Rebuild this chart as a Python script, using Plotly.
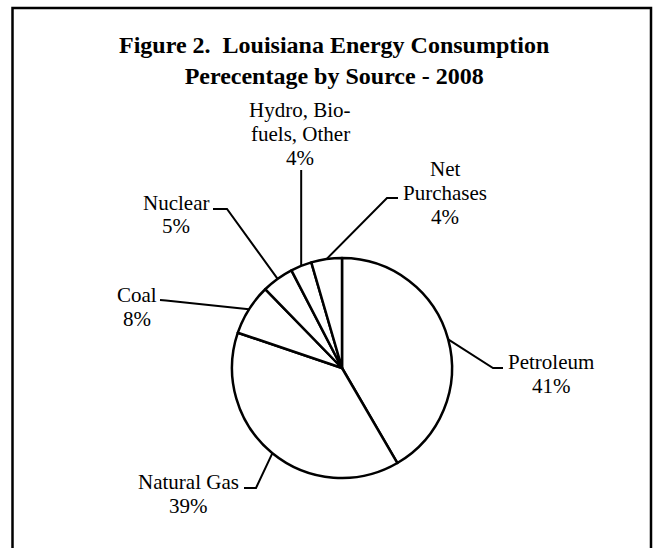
import math
import plotly.graph_objects as go

# ---- data ----
sources = ["Petroleum", "Natural Gas", "Coal", "Nuclear", "Hydro, Bio-fuels, Other", "Net Purchases"]
label_lines = [["Petroleum"], ["Natural Gas"], ["Coal"], ["Nuclear"], ["Hydro, Bio-", "fuels, Other"], ["Net", "Purchases"]]
shares = [41.6, 38.6, 7.5, 4.7, 3.1, 4.5]
pct_text = ["41%", "39%", "8%", "5%", "4%", "4%"]
title_lines = ["Figure 2.&nbsp; Louisiana Energy Consumption", "Perecentage by Source - 2008"]

# ---- layout (pixels) ----
W, H = 653, 548
CX, CY, R = 342, 368, 110
FONT = "Liberation Serif, Times New Roman, serif"
LINE_H = 24

# label block: (center x, first line center y); leader: (elbow, end)
label_pos = [(551, 362), (188, 482), (137, 295), (176, 202.5), (300, 110), (445, 168.5)]
leader_pts = [
    ((493, 368), (503, 368)),
    ((256, 488), (244, 488)),
    ((166, 300.5), (160, 300)),
    ((227, 209), (213, 209)),
    (None, 170),
    ((387, 198), (398, 198)),
]


def px(x, y):
    return x / W, 1 - y / H


fig = go.Figure()
fig.add_trace(go.Pie(
    labels=sources, values=shares, sort=False, direction="clockwise", rotation=0,
    textinfo="none", hoverinfo="label+percent",
    marker=dict(colors=["white"] * len(shares), line=dict(color="black", width=2.5)),
    domain=dict(x=[(CX - R) / W, (CX + R) / W], y=[1 - (CY + R) / H, 1 - (CY - R) / H]),
    showlegend=False,
))

shapes = []
annotations = []
total = sum(shares)
cum = 0.0
for i, v in enumerate(shares):
    theta = 2 * math.pi * (cum + v / 2) / total
    cum += v
    ex, ey = CX + R * math.sin(theta), CY - R * math.cos(theta)
    lp = leader_pts[i]
    if lp[0] is None:
        pts = [(ex, ey), (ex, lp[1])]
    else:
        pts = [(ex, ey), lp[0], lp[1]]
    path = ""
    for k, (x, y) in enumerate(pts):
        xp, yp = px(x, y)
        path += ("M" if k == 0 else " L") + f" {xp:.5f},{yp:.5f}"
    shapes.append(dict(type="path", xref="paper", yref="paper", path=path,
                       line=dict(color="black", width=2)))
    lines = label_lines[i] + [pct_text[i]]
    lx, ly = label_pos[i]
    for j, t in enumerate(lines):
        xp, yp = px(lx, ly + j * LINE_H)
        annotations.append(dict(x=xp, y=yp, xref="paper", yref="paper", text=t,
                                showarrow=False, xanchor="center", yanchor="middle",
                                font=dict(family=FONT, size=21, color="black")))

tx, ty = px(334, 60.5)
annotations.append(dict(x=tx, y=ty, xref="paper", yref="paper",
                        text="<b>" + "<br>".join(title_lines) + "</b>",
                        showarrow=False, xanchor="center", yanchor="middle",
                        font=dict(family=FONT, size=24, color="black")))

bx0, by0 = px(12.5, 560)
bx1, by1 = px(651, 8)
shapes.append(dict(type="rect", xref="paper", yref="paper", x0=bx0, y0=by0, x1=bx1, y1=by1,
                   line=dict(color="black", width=2.5), fillcolor="rgba(0,0,0,0)"))

fig.update_layout(width=W, height=H, margin=dict(l=0, r=0, t=0, b=0),
                  paper_bgcolor="white", plot_bgcolor="white",
                  shapes=shapes, annotations=annotations)
fig.write_html("out.html", config={"displayModeBar": False},
               post_script="document.body.style.margin='0';document.body.style.overflow='hidden';")
